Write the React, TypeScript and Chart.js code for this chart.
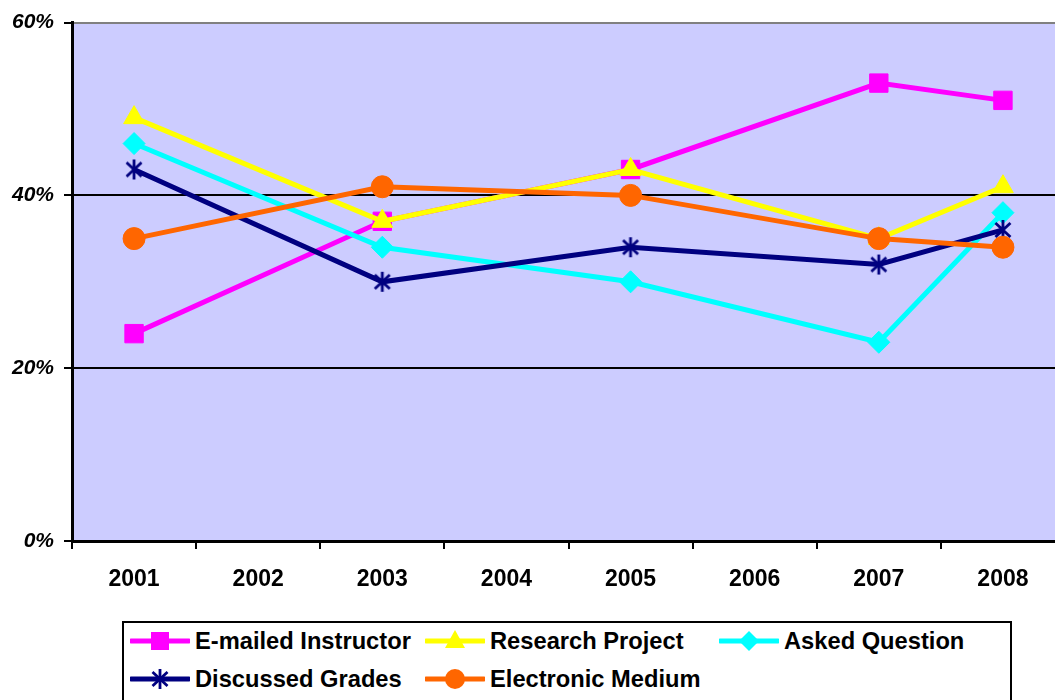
import React, { useEffect, useRef } from "react";
import { Chart, registerables } from "chart.js";

Chart.register(...registerables);

const years = ["2001", "2002", "2003", "2004", "2005", "2006", "2007", "2008"];
const emailedInstructor = [24, null, 37, null, 43, null, 53, 51];
const researchProject = [49, null, 37, null, 43, null, 35, 41];
const askedQuestion = [46, null, 34, null, 30, null, 23, 38];
const discussedGrades = [43, null, 30, null, 34, null, 32, 36];
const electronicMedium = [35, null, 41, null, 40, null, 35, 34];
const yTickValues = [0, 20, 40, 60];

const seriesNames = [
  "E-mailed Instructor",
  "Research Project",
  "Asked Question",
  "Discussed Grades",
  "Electronic Medium",
];
const seriesColors = ["#FF00FF", "#FFFF00", "#00FFFF", "#000080", "#FF6600"];
const seriesData = [emailedInstructor, researchProject, askedQuestion, discussedGrades, electronicMedium];

const PLOT_BG = "#CCCCFF";
const FONT = "'Liberation Sans', Arial, sans-serif";

function makeStar(color: string): HTMLCanvasElement {
  const c = document.createElement("canvas");
  c.width = 22;
  c.height = 22;
  const g = c.getContext("2d")!;
  g.strokeStyle = color;
  g.lineWidth = 2.8;
  g.beginPath();
  g.moveTo(11, 1);
  g.lineTo(11, 21);
  g.moveTo(3.5, 4);
  g.lineTo(18.5, 18);
  g.moveTo(18.5, 4);
  g.lineTo(3.5, 18);
  g.stroke();
  return c;
}

const bgPlugin = {
  id: "plotBg",
  beforeDraw(chart: any) {
    const { ctx, chartArea } = chart;
    if (!chartArea) return;
    ctx.save();
    ctx.fillStyle = PLOT_BG;
    ctx.fillRect(chartArea.left, chartArea.top, chartArea.right - chartArea.left, chartArea.bottom - chartArea.top);
    ctx.restore();
  },
};

function LegendSymbol({ index }: { index: number }) {
  const color = seriesColors[index];
  const cx = 30;
  const cy = 12;
  let marker: React.ReactNode = null;
  if (index === 0) marker = <rect x={cx - 9} y={cy - 9} width={18} height={18} fill={color} />;
  if (index === 1) marker = <polygon points={`${cx},${cy - 11} ${cx + 10},${cy + 7} ${cx - 10},${cy + 7}`} fill={color} />;
  if (index === 2) marker = <polygon points={`${cx},${cy - 10} ${cx + 10},${cy} ${cx},${cy + 10} ${cx - 10},${cy}`} fill={color} />;
  if (index === 3)
    marker = (
      <g stroke={color} strokeWidth={2.8}>
        <line x1={cx} y1={cy - 10} x2={cx} y2={cy + 10} />
        <line x1={cx - 7.5} y1={cy - 7} x2={cx + 7.5} y2={cy + 7} />
        <line x1={cx + 7.5} y1={cy - 7} x2={cx - 7.5} y2={cy + 7} />
      </g>
    );
  if (index === 4) marker = <circle cx={cx} cy={cy} r={10} fill={color} />;
  return (
    <svg width={60} height={24} style={{ display: "block" }}>
      <line x1={1} y1={cy} x2={59} y2={cy} stroke={color} strokeWidth={5} strokeLinecap="round" />
      {marker}
    </svg>
  );
}

export default function App() {
  const canvasRef = useRef<HTMLCanvasElement | null>(null);

  useEffect(() => {
    const canvas = canvasRef.current;
    if (!canvas) return;
    const star = makeStar(seriesColors[3]);
    const pointStyles: any[] = ["rect", "triangle", "rectRot", star, "circle"];
    const radii = [13, 12, 11, 11, 11];
    const datasets = seriesNames.map((name, i) => ({
      label: name,
      data: seriesData[i],
      borderColor: seriesColors[i],
      backgroundColor: seriesColors[i],
      borderWidth: 5,
      pointStyle: pointStyles[i],
      pointRadius: radii[i],
      pointHoverRadius: radii[i],
      pointBorderWidth: i === 3 ? 0 : 1,
      pointBorderColor: seriesColors[i],
      pointBackgroundColor: seriesColors[i],
      spanGaps: true,
      tension: 0,
      order: 5 - i,
    }));

    const chart = new Chart(canvas, {
      type: "line",
      data: { labels: years, datasets },
      plugins: [bgPlugin],
      options: {
        responsive: false,
        animation: false,
        devicePixelRatio: 1,
        layout: { padding: { left: 0, right: 0, top: 19, bottom: 0 } },
        plugins: { legend: { display: false }, tooltip: { enabled: false } },
        scales: {
          x: {
            type: "category",
            offset: true,
            grid: {
              offset: true,
              drawOnChartArea: false,
              drawTicks: true,
              tickLength: 8,
              color: "#000000",
              lineWidth: 2,
            },
            border: { display: true, color: "#000000", width: 3 },
            ticks: {
              color: "#000000",
              font: { family: FONT, size: 23, weight: "bold" },
              padding: 17,
              maxRotation: 0,
              autoSkip: false,
            },
            afterFit(scale: any) {
              scale.height = 59;
            },
          },
          y: {
            min: 0,
            max: 60,
            afterBuildTicks(scale: any) {
              scale.ticks = yTickValues.map((v) => ({ value: v }));
            },
            grid: {
              color: (ctx: any) => (ctx.tick && ctx.tick.value === 60 ? "#808080" : "#000000"),
              tickColor: "#000000",
              lineWidth: 2,
              tickLength: 8,
            },
            border: { display: true, color: "#000000", width: 3 },
            ticks: {
              color: "#000000",
              font: { family: FONT, size: 21, weight: "bold", style: "italic" },
              padding: 10,
              callback: (v: any) => `${v}%`,
            },
            afterFit(scale: any) {
              scale.width = 72;
            },
          },
        },
      } as any,
    });
    return () => chart.destroy();
  }, []);

  const legendCols = [130, 425, 719];
  const legendRows = [641, 679];

  return (
    <div
      style={{
        position: "absolute",
        left: 0,
        top: 0,
        width: 1055,
        height: 700,
        overflow: "hidden",
        background: "#FFFFFF",
      }}
    >
      <canvas ref={canvasRef} width={1079} height={600} style={{ position: "absolute", left: 0, top: 0 }} />
      <div
        style={{
          position: "absolute",
          left: 122,
          top: 621,
          width: 890,
          height: 100,
          border: "2px solid #000000",
          boxSizing: "border-box",
        }}
      />
      {seriesNames.map((name, i) => {
        const col = i < 3 ? i : i - 3;
        const row = i < 3 ? 0 : 1;
        return (
          <div
            key={name}
            style={{
              position: "absolute",
              left: legendCols[col],
              top: legendRows[row] - 12,
              height: 24,
              display: "flex",
              alignItems: "center",
              whiteSpace: "nowrap",
            }}
          >
            <LegendSymbol index={i} />
            <span
              style={{
                marginLeft: 5,
                fontFamily: FONT,
                fontWeight: "bold",
                fontSize: 23.7,
                lineHeight: "24px",
                color: "#000000",
              }}
            >
              {name}
            </span>
          </div>
        );
      })}
    </div>
  );
}
